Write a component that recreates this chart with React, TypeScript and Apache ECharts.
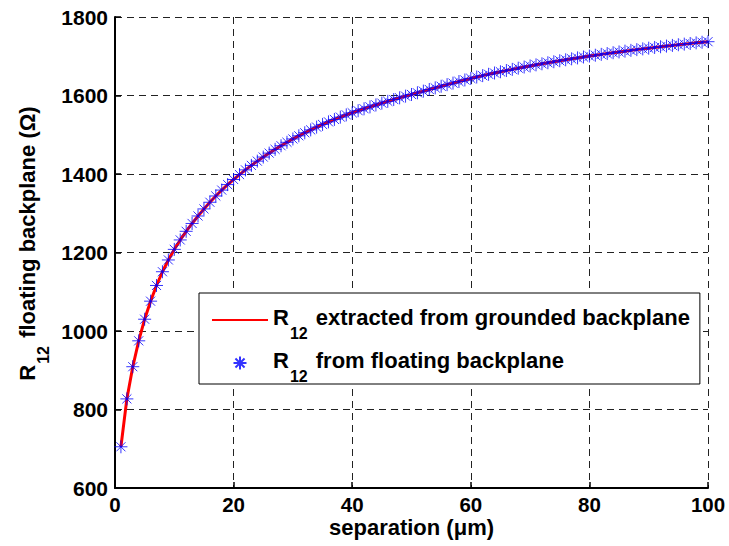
import React, { useEffect, useRef } from 'react';
import * as echarts from 'echarts';

// Contact separation in micrometres
const separation = [
  1, 2, 3, 4, 5, 6, 7, 8, 9, 10,
  11, 12, 13, 14, 15, 16, 17, 18, 19, 20,
  21, 22, 23, 24, 25, 26, 27, 28, 29, 30,
  31, 32, 33, 34, 35, 36, 37, 38, 39, 40,
  41, 42, 43, 44, 45, 46, 47, 48, 49, 50,
  51, 52, 53, 54, 55, 56, 57, 58, 59, 60,
  61, 62, 63, 64, 65, 66, 67, 68, 69, 70,
  71, 72, 73, 74, 75, 76, 77, 78, 79, 80,
  81, 82, 83, 84, 85, 86, 87, 88, 89, 90,
  91, 92, 93, 94, 95, 96, 97, 98, 99, 100,
];

// R12 measured with a floating backplane (ohms)
const r12Floating = [
  705, 827, 909, 975, 1030, 1076, 1116, 1151, 1181, 1208,
  1232, 1254, 1274, 1293, 1311, 1328, 1344, 1359, 1373, 1386,
  1398.5, 1410.5, 1421.9, 1432.8, 1443.2, 1453.2, 1462.8, 1472.0, 1480.8, 1489.3,
  1497.3, 1505.0, 1512.4, 1519.5, 1526.3, 1532.8, 1539.0, 1544.9, 1550.6, 1556.0,
  1561.2, 1566.2, 1571.1, 1575.9, 1580.6, 1585.2, 1589.7, 1594.1, 1598.4, 1602.6,
  1606.9, 1611.1, 1615.3, 1619.4, 1623.5, 1627.6, 1631.6, 1635.6, 1639.6, 1643.5,
  1647.1, 1650.6, 1654.0, 1657.3, 1660.5, 1663.6, 1666.6, 1669.6, 1672.5, 1675.3,
  1678.1, 1680.8, 1683.4, 1686.0, 1688.5, 1691.0, 1693.4, 1695.8, 1698.1, 1700.4,
  1702.6, 1704.8, 1706.9, 1709.0, 1711.0, 1713.0, 1715.0, 1716.9, 1718.8, 1720.6,
  1722.4, 1724.2, 1725.9, 1727.6, 1729.3, 1730.9, 1732.5, 1734.1, 1735.6, 1737.1,
];

// R12 extracted from the grounded-backplane model (ohms)
const r12Grounded = [
  705, 827, 909, 975, 1030, 1076, 1116, 1151, 1181, 1208,
  1232, 1254, 1274, 1293, 1311, 1328, 1344, 1359, 1373, 1386,
  1398.5, 1410.5, 1421.9, 1432.8, 1443.2, 1453.2, 1462.8, 1472.0, 1480.8, 1489.3,
  1497.3, 1505.0, 1512.4, 1519.5, 1526.3, 1532.8, 1539.0, 1544.9, 1550.6, 1556.0,
  1561.2, 1566.2, 1571.1, 1575.9, 1580.6, 1585.2, 1589.7, 1594.1, 1598.4, 1602.6,
  1606.9, 1611.1, 1615.3, 1619.4, 1623.5, 1627.6, 1631.6, 1635.6, 1639.6, 1643.5,
  1647.1, 1650.6, 1654.0, 1657.3, 1660.5, 1663.6, 1666.6, 1669.6, 1672.5, 1675.3,
  1678.1, 1680.8, 1683.4, 1686.0, 1688.5, 1691.0, 1693.4, 1695.8, 1698.1, 1700.4,
  1702.6, 1704.8, 1706.9, 1709.0, 1711.0, 1713.0, 1715.0, 1716.9, 1718.8, 1720.6,
  1722.4, 1724.2, 1725.9, 1727.6, 1729.3, 1730.9, 1732.5, 1734.1, 1735.6, 1737.1,
];

const xRange = [0, 100];
const xStep = 20;
const yRange = [600, 1800];
const yStep = 200;

const seriesNames = ['grounded', 'floating'];
const legendLabels: Record<string, string> = {
  grounded: '{r|R}{s|12}{r| extracted from grounded backplane}',
  floating: '{r|R}{s|12}{r| from floating backplane}',
};
const xAxisTitle = 'separation (\u03bcm)';
const yAxisTitle = '{r|R}{s|12}{r| floating backplane (\u03a9)}';

const FONT = '"Liberation Sans", Arial, Helvetica, sans-serif';

// MATLAB-style asterisk marker: plus and cross overlaid
const STAR = 'path://M6,0L6,12M0,6L12,6M1.8,1.8L10.2,10.2M1.8,10.2L10.2,1.8';

// "R" with a lowered "12" subscript
const richText = {
  r: {
    fontFamily: FONT,
    fontWeight: 'bold',
    fontSize: 22,
    lineHeight: 28,
    color: '#000',
    verticalAlign: 'top',
  },
  s: {
    fontFamily: FONT,
    fontWeight: 'bold',
    fontSize: 16,
    lineHeight: 28,
    color: '#000',
    verticalAlign: 'top',
    padding: [19, 2, 0, 1],
  },
};

export default function App() {
  const ref = useRef<HTMLDivElement>(null);

  useEffect(() => {
    if (!ref.current) return;
    const chart = echarts.init(ref.current, undefined, { renderer: 'svg' });

    const pairs = (ys: number[]) => separation.map((x, i) => [x, ys[i]]);
    const plainNumber = (v: number) => String(v);

    chart.setOption({
      animation: false,
      backgroundColor: '#fff',
      textStyle: { fontFamily: FONT },
      grid: { left: 115, right: 21, top: 17, bottom: 58, containLabel: false },
      xAxis: {
        type: 'value',
        min: xRange[0],
        max: xRange[1],
        interval: xStep,
        name: xAxisTitle,
        nameLocation: 'middle',
        nameGap: 32.5,
        nameMoveOverlap: false,
        nameTextStyle: { fontFamily: FONT, fontWeight: 'bold', fontSize: 22, lineHeight: 14, color: '#000' },
        axisLine: { show: true, onZero: false, lineStyle: { color: '#000', width: 2 } },
        axisTick: { show: true, inside: true, length: 6, lineStyle: { color: '#000', width: 1.5 } },
        axisLabel: {
          margin: 10,
          fontFamily: FONT,
          fontWeight: 'bold',
          fontSize: 20.5,
          lineHeight: 13,
          color: '#000',
          formatter: plainNumber,
        },
        splitLine: { show: true, lineStyle: { color: '#222', width: 1, type: [7, 5] } },
      },
      yAxis: {
        type: 'value',
        min: yRange[0],
        max: yRange[1],
        interval: yStep,
        name: yAxisTitle,
        nameLocation: 'middle',
        nameRotate: 90,
        nameGap: 71,
        nameMoveOverlap: false,
        nameTextStyle: { rich: richText, padding: [0, 0, 0, 18] },
        axisLine: { show: true, onZero: false, lineStyle: { color: '#000', width: 2 } },
        axisTick: { show: true, inside: true, length: 6, lineStyle: { color: '#000', width: 1.5 } },
        axisLabel: { margin: 7, fontFamily: FONT, fontWeight: 'bold', fontSize: 21, color: '#000', formatter: plainNumber },
        splitLine: { show: true, lineStyle: { color: '#222', width: 1, type: [7, 5] } },
      },
      legend: {
        orient: 'vertical',
        left: 199,
        top: 293,
        padding: [13, 10, 0, 12],
        itemGap: 8,
        itemWidth: 56,
        itemHeight: 13,
        backgroundColor: '#fff',
        borderColor: '#000',
        borderWidth: 1,
        borderRadius: 0,
        selectedMode: false,
        data: seriesNames,
        formatter: (name: string) => legendLabels[name],
        textStyle: { rich: richText },
      },
      series: [
        {
          name: seriesNames[0],
          type: 'line',
          data: pairs(r12Grounded),
          symbol: 'circle',
          showSymbol: false,
          smooth: false,
          lineStyle: { color: '#ff0000', width: 3 },
          itemStyle: { color: 'rgba(255,0,0,0)', borderWidth: 0 },
          z: 2,
        },
        {
          name: seriesNames[1],
          type: 'scatter',
          data: pairs(r12Floating),
          symbol: STAR,
          symbolSize: 13,
          itemStyle: { color: 'rgba(0,0,255,0)', borderColor: '#0000ff', borderWidth: 1 },
          z: 3,
        },
      ],
    });

    return () => chart.dispose();
  }, []);

  return (
    <div
      ref={ref}
      style={{ position: 'fixed', left: 0, top: 0, width: 729, height: 546, background: '#fff' }}
    />
  );
}
